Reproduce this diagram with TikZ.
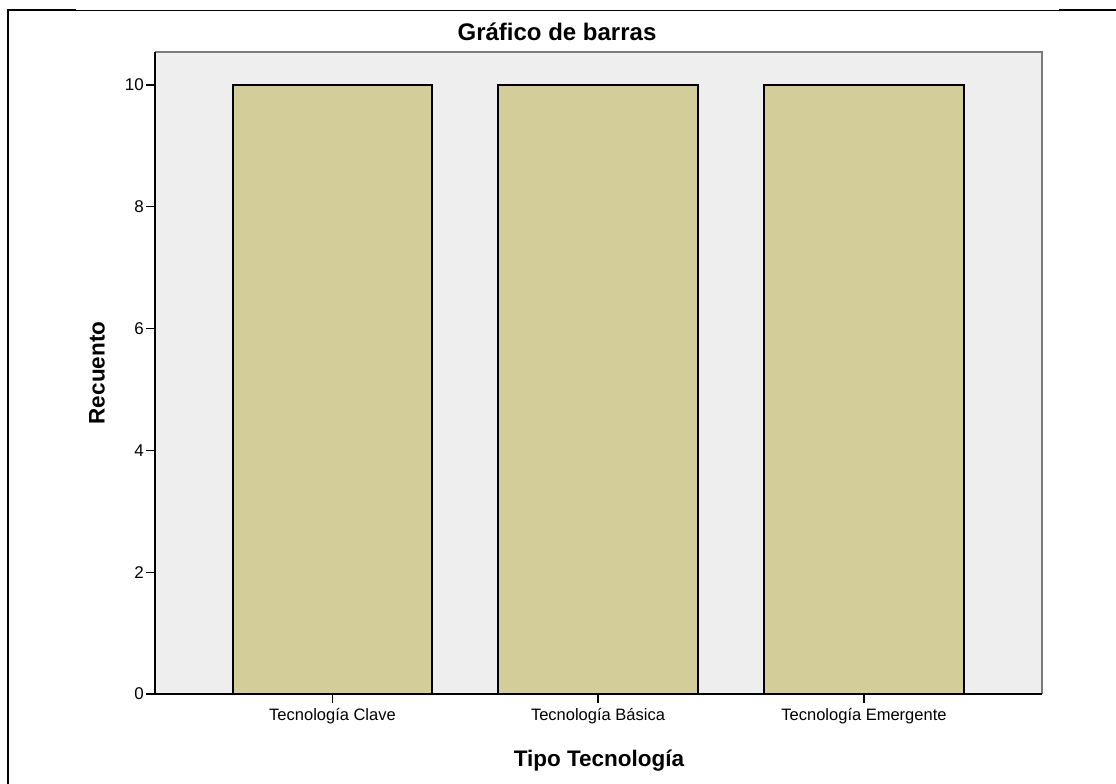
\documentclass[tikz,border=0pt]{standalone}
\usepackage{fontspec}
\setmainfont{Liberation Sans}
\definecolor{plotbg}{HTML}{EEEEEE}
\definecolor{barfill}{HTML}{D3CE99}
\definecolor{frameg}{HTML}{7A7A7A}
\tikzset{
  bar/.style={draw=black, line width=1.3pt, fill=barfill},
  ticklab/.style={font=\fontsize{17}{19}\selectfont, inner sep=0pt},
  catlab/.style={font=\fontsize{16.5}{18}\selectfont, inner sep=0pt},
  axtitle/.style={font=\bfseries\fontsize{22.5}{26}\selectfont, inner sep=0pt},
  charttitle/.style={font=\bfseries\fontsize{24}{27}\selectfont, inner sep=0pt},
  tickline/.style={line width=1.3pt, black}
}
\begin{document}
\begin{tikzpicture}[x=1pt, y=-1pt]
\useasboundingbox (0,0) rectangle (1116,784);
\fill[white] (0,0) rectangle (1116,784);
% outer frame
\draw[line width=2pt] (8,784) -- (8,10.5) -- (76,10.5);
\draw[line width=1.2pt] (76,10.5) -- (1059,10.5);
\draw[line width=2pt] (1059,10.5) -- (1116,10.5);
% plot area
\fill[plotbg] (155,52) rectangle (1042,694);
\draw[frameg, line width=2pt] (155,52) -- (1042,52) -- (1042,694);
\draw[black, line width=1.5pt] (155,52) -- (155,694) -- (1042,694);
% bars
\draw[bar] (233,85) rectangle (432,694);
\draw[bar] (498,85) rectangle (698,694);
\draw[bar] (764,85) rectangle (964,694);
% y ticks
\foreach \v in {0,2,4,6,8,10} {
  \coordinate (yt\v) at (155,{694-60.9*\v});
  \draw[tickline] (yt\v) -- ++(-9,0);
  \node[ticklab, anchor=east] (yl\v) at ([xshift=-11pt]yt\v) {\v};
}
% x ticks
\coordinate (xt1) at (332.5,694);
\coordinate (xt2) at (598,694);
\coordinate (xt3) at (864,694);
\foreach \i in {1,2,3} { \draw[tickline] (xt\i) -- ++(0,9); }
\node[catlab] (c1) at (332.5,716) {Tecnología Clave};
\node[catlab] (c2) at (598,716) {Tecnología Básica};
\node[catlab] (c3) at (864,716) {Tecnología Emergente};
% titles
\node[charttitle] (title) at (557,32) {Gráfico de barras};
\node[axtitle] (xtitle) at (599,761) {Tipo Tecnología};
\node[axtitle, rotate=90] (ytitle) at (97,373) {Recuento};
\end{tikzpicture}
\end{document}
